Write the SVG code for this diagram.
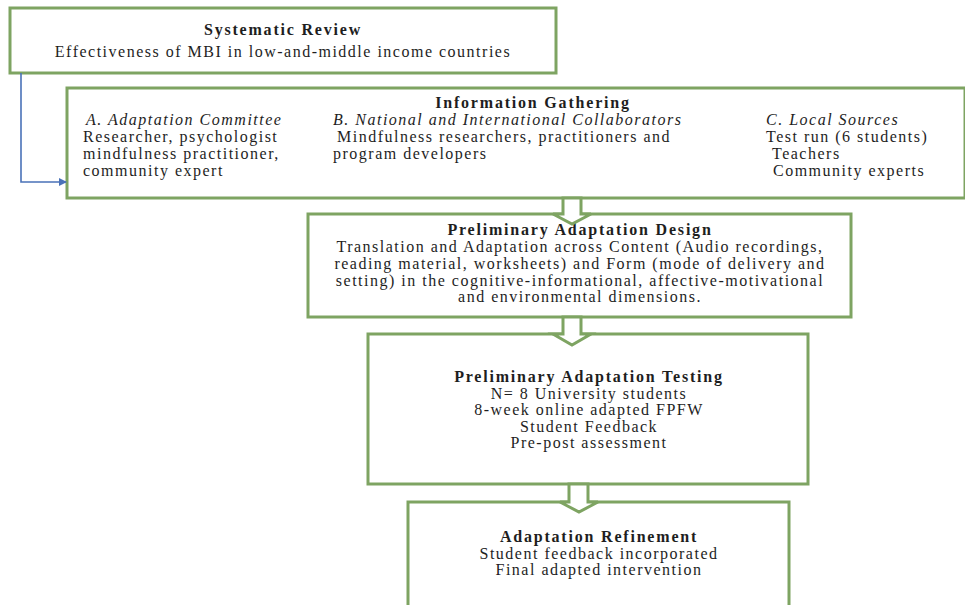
<svg xmlns="http://www.w3.org/2000/svg" width="965" height="605" viewBox="0 0 965 605">
<style>
.box{fill:#ffffff;stroke:#7ea462;stroke-width:3}
.arr{fill:#ffffff;stroke:#7ea462;stroke-width:3;stroke-linejoin:miter}
text{font-family:"Liberation Serif","Times New Roman",serif;font-size:16px;fill:#1e1e1e;letter-spacing:1.5px}
.t{font-weight:bold;letter-spacing:1.8px}
.i{font-style:italic}
.c{text-anchor:middle}
.link{fill:none;stroke:#4a72b8;stroke-width:1.6}
</style>
<defs>
<marker id="ah" markerWidth="8" markerHeight="8" refX="7" refY="4" orient="auto" markerUnits="userSpaceOnUse">
<path d="M0,0 L8,4 L0,8 Z" fill="#4a72b8"/>
</marker>
</defs>
<rect width="965" height="605" fill="#ffffff"/>
<g id="systematic-review">
<rect class="box" x="10" y="8" width="546" height="65"/>
<text class="t c" x="283" y="35">Systematic Review</text>
<text class="c" x="283" y="57">Effectiveness of MBI in low-and-middle income countries</text>
</g>
<g id="information-gathering">
<rect class="box" x="67" y="88" width="898" height="110"/>
<text class="t c" x="533" y="108">Information Gathering</text>
<text class="i" x="86" y="125">A. Adaptation Committee</text>
<text x="83" y="142">Researcher, psychologist</text>
<text x="83" y="159">mindfulness practitioner,</text>
<text x="83" y="176">community expert</text>
<text class="i" x="333" y="125">B. National and International Collaborators</text>
<text x="337" y="142">Mindfulness researchers, practitioners and</text>
<text x="333" y="159">program developers</text>
<text class="i" x="766" y="125">C. Local Sources</text>
<text x="766" y="142">Test run (6 students)</text>
<text x="772" y="159">Teachers</text>
<text x="773" y="176">Community experts</text>
</g>
<g id="preliminary-adaptation-design">
<rect class="box" x="308" y="214" width="543" height="103"/>
<text class="t c" x="580" y="235">Preliminary Adaptation Design</text>
<text class="c" x="580" y="252">Translation and Adaptation across Content (Audio recordings,</text>
<text class="c" x="580" y="269">reading material, worksheets) and Form (mode of delivery and</text>
<text class="c" x="580" y="286">setting) in the cognitive-informational, affective-motivational</text>
<text class="c" x="580" y="302">and environmental dimensions.</text>
</g>
<g id="preliminary-adaptation-testing">
<rect class="box" x="368" y="334" width="440" height="150"/>
<text class="t c" x="589" y="382">Preliminary Adaptation Testing</text>
<text class="c" x="589" y="398.5">N= 8 University students</text>
<text class="c" x="589" y="415">8-week online adapted FPFW</text>
<text class="c" x="589" y="431.5">Student Feedback</text>
<text class="c" x="589" y="448">Pre-post assessment</text>
</g>
<g id="adaptation-refinement">
<rect class="box" x="408" y="502" width="381" height="110"/>
<text class="t c" x="599" y="542">Adaptation Refinement</text>
<text class="c" x="599" y="558.5">Student feedback incorporated</text>
<text class="c" x="599" y="575">Final adapted intervention</text>
</g>
<g id="connectors">
<polyline class="link" points="21,73 21,182 66,182" marker-end="url(#ah)"/>
<polygon class="arr" points="563,198 563,214 553,214 572,224 591,214 581,214 581,198"/>
<polygon class="arr" points="563,317 563,334 553,334 572,345 591,334 581,334 581,317"/>
<polygon class="arr" points="569,484 569,502 560,502 579,512 598,502 588,502 588,484"/>
</g>
</svg>
